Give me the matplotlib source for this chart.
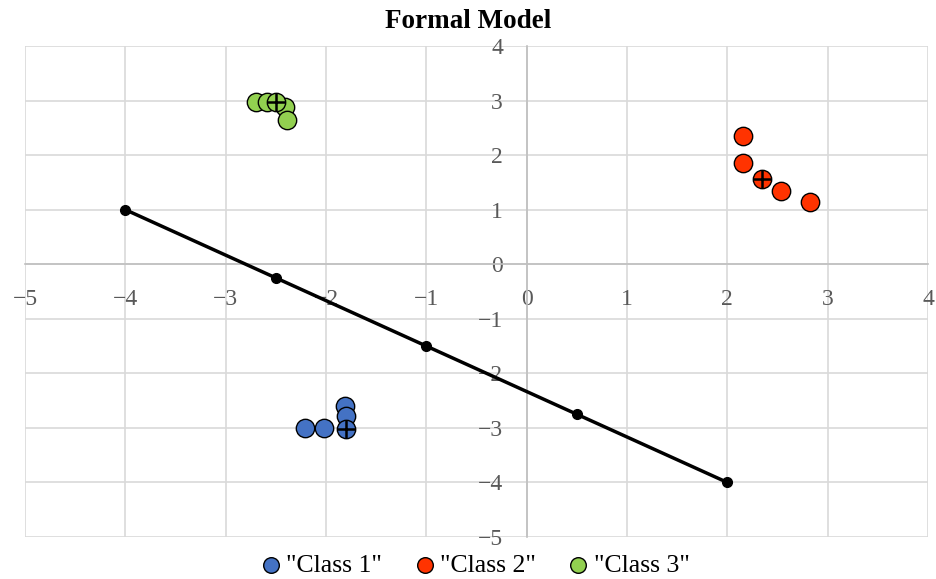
import matplotlib.pyplot as plt

# Class points
class1_x = [-2.21, -2.02, -1.81, -1.80]
class1_y = [-3.01, -3.01, -2.59, -2.79]
class2_x = [2.16, 2.16, 2.53, 2.82]
class2_y = [2.35, 1.85, 1.35, 1.15]
class3_x = [-2.70, -2.59, -2.41, -2.39]
class3_y = [2.98, 2.98, 2.88, 2.65]

# Centroids (marked with a cross)
cent_x = [-1.80, 2.35, -2.50]
cent_y = [-3.02, 1.56, 2.98]

# Decision line points
line_x = [-4, -2.5, -1, 0.5, 2]
line_y = [1, -0.25, -1.5, -2.75, -4]

colors = ['#4472c4', '#ff3300', '#92d050']
labels = ['"Class 1"', '"Class 2"', '"Class 3"']

plt.rcParams['font.family'] = ['Liberation Serif', 'DejaVu Serif']

fig = plt.figure(figsize=(9.36, 5.79), dpi=100)
ax = fig.add_axes([0.0267, 0.0725, 0.9648, 0.848])

ax.plot(line_x, line_y, color='black', linewidth=2.5, marker='o',
        markersize=7, zorder=3)

series = [(class1_x, class1_y), (class2_x, class2_y), (class3_x, class3_y)]
for (xs, ys), c, lab in zip(series, colors, labels):
    ax.scatter(xs, ys, s=175, color=c, edgecolor='black', linewidth=1,
               zorder=4, label=lab)

for i, c in enumerate(colors):
    ax.scatter(cent_x[i], cent_y[i], s=175, color=c, edgecolor='black',
               linewidth=1, zorder=5)
ax.scatter(cent_x, cent_y, s=175, marker='+', color='black', linewidth=1.8,
           zorder=6)

ticks = list(range(-5, 5))
tick_labels = ['\u2212%d' % -v if v < 0 else str(v) for v in ticks]
ax.set_xlim(-5, 4)
ax.set_ylim(-5, 4)
ax.set_xticks(ticks)
ax.set_yticks(ticks)
ax.set_xticklabels(tick_labels)
ax.set_yticklabels(tick_labels)

ax.grid(True, color='#d9d9d9', linewidth=1.2, zorder=0)
ax.set_axisbelow(True)

for s in ['top', 'right']:
    ax.spines[s].set_visible(False)
for s in ['left', 'bottom']:
    ax.spines[s].set_position(('data', 0))
    ax.spines[s].set_color('#bfbfbf')
    ax.spines[s].set_linewidth(1.2)

ax.tick_params(axis='both', length=0, labelsize=17, labelcolor='#595959')
ax.tick_params(axis='x', pad=18)
ax.tick_params(axis='y', pad=17)

fig.text(0.5, 0.963, 'Formal Model', ha='center', va='center',
         fontsize=19.5, fontweight='bold')

ax.legend(loc='center', bbox_to_anchor=(0.5, -0.057), ncol=3,
          frameon=False, fontsize=18.5, handlelength=0.6, handletextpad=0.3,
          columnspacing=1.35, markerscale=0.85)

fig.savefig('out.png', dpi=100)
